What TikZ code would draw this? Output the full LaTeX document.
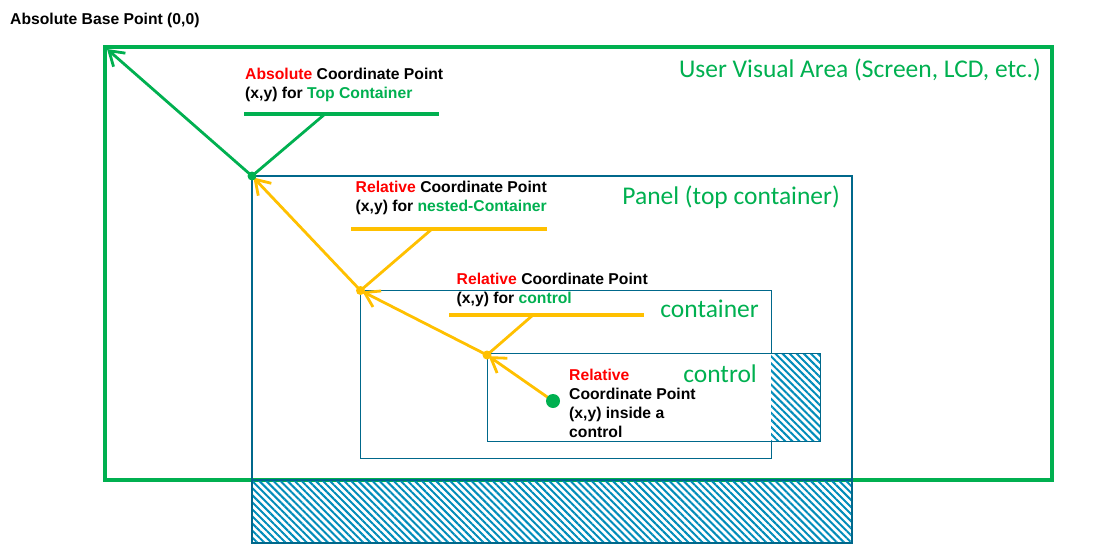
\documentclass[tikz,border=0pt]{standalone}
\usepackage{fontspec}
\setmainfont{Liberation Sans}
\newfontfamily\calib{Carlito}
\usetikzlibrary{arrows.meta,patterns.meta}

\definecolor{uvgreen}{RGB}{0,176,80}
\definecolor{relyellow}{RGB}{255,192,0}
\definecolor{paneledge}{RGB}{0,104,139}
\definecolor{hatchblue}{RGB}{0,140,186}
\definecolor{keyred}{RGB}{255,0,0}

\tikzset{
  lbl/.style={font=\bfseries\fontsize{15.7}{19}\selectfont, align=left, anchor=north west, inner sep=0pt},
  area/.style={font=\calib\fontsize{25.5}{30}\selectfont, text=uvgreen, anchor=base east, inner sep=0pt},
  dot/.style={circle, fill=#1, inner sep=0pt, minimum size=9pt},
  hatched/.style={pattern={Lines[angle=-45, distance=5pt, line width=2pt]}, pattern color=hatchblue},
  barb/.style={-{Straight Barb[length=14pt, width=18pt, line width=2.8pt]}, line width=2.8pt}
}

\begin{document}
\begin{tikzpicture}[x=1pt, y=1pt]
        \useasboundingbox (0,0) rectangle (1098,-554);

        % 画面の表示領域
        \draw[uvgreen, line width=3.3pt] (105,-47) rectangle (1052,-480);
        \node[area] (screen) at (1041,-77) {User Visual Area (Screen, LCD, etc.)};

        % パネル (トップコンテナ)
        \fill[hatched] (252,-480) rectangle (852,-543);
        \draw[paneledge, line width=2.8pt] (252,-176) rectangle (852,-543);
        \draw[paneledge, line width=2.8pt] (252,-480) -- (852,-480);
        \node[area] (panel) at (840,-204.5) {Panel (top container)};

        % 入れ子のコンテナ
        \draw[paneledge, line width=1pt] (360,-290) rectangle (771,-458);
        \node[area] (cont) at (759,-317) {container};

        % コントロール
        \fill[white] (771,-353) rectangle (820,-441);
        \fill[hatched] (771,-353) rectangle (820,-441);
        \draw[paneledge, line width=1pt] (487,-353) rectangle (820,-441);
        \node[area] (ctrl) at (757,-382) {control};

        % 基準点
        \node[lbl] (basetxt) at (10,-13) {Absolute Base Point (0,0)};
        \coordinate (origin) at (107,-49);
        \coordinate (topdot) at (252,-176);
        \coordinate (nestdot) at (360.5,-290.5);
        \coordinate (ctrldot) at (487,-355);
        \coordinate (indot) at (553,-401);

        % 座標の矢印
        \draw[barb, uvgreen] (topdot) -- (origin);
        \draw[barb, relyellow, shorten >=2pt] (nestdot) -- (topdot);
        \draw[barb, relyellow, shorten >=2pt] (ctrldot) -- (nestdot);
        \draw[barb, relyellow, shorten >=2pt] (indot) -- (ctrldot);

        % 引き出し線
        \coordinate (absl) at (244,-114);
        \coordinate (absr) at (439,-114);
        \coordinate (absk) at (325,-114);
        \draw[uvgreen, line width=3.3pt] (absl) -- (absr);
        \draw[uvgreen, line width=2.8pt] (absk) -- (topdot);

        \coordinate (nestl) at (351,-229);
        \coordinate (nestr) at (547,-229);
        \coordinate (nestk) at (432,-229);
        \draw[relyellow, line width=3.3pt] (nestl) -- (nestr);
        \draw[relyellow, line width=2.8pt] (nestk) -- (nestdot);

        \coordinate (ctrll) at (449,-315);
        \coordinate (ctrlr) at (644,-315);
        \coordinate (ctrlk) at (533,-315);
        \draw[relyellow, line width=3.3pt] (ctrll) -- (ctrlr);
        \draw[relyellow, line width=2.8pt] (ctrlk) -- (ctrldot);

        % 点
        \node[dot=uvgreen] (topmark) at (topdot) {};
        \node[dot=relyellow] (nestmark) at (nestdot) {};
        \node[dot=relyellow] (ctrlmark) at (ctrldot) {};
        \node[dot=uvgreen, minimum size=14pt] (inmark) at (indot) {};

        % 注釈
        \node[lbl] (abstxt) at (245,-68) {\textcolor{keyred}{Absolute} Coordinate Point\\(x,y) for \textcolor{uvgreen}{Top Container}};
        \node[lbl] (nesttxt) at (355.5,-181) {\textcolor{keyred}{Relative} Coordinate Point\\(x,y) for \textcolor{uvgreen}{nested-Container}};
        \node[lbl] (ctrltxt) at (456.5,-273) {\textcolor{keyred}{Relative} Coordinate Point\\(x,y) for \textcolor{uvgreen}{control}};
        \node[lbl] (intxt) at (569,-369) {\textcolor{keyred}{Relative}\\Coordinate Point\\(x,y) inside a\\control};
      \end{tikzpicture}
\end{document}
